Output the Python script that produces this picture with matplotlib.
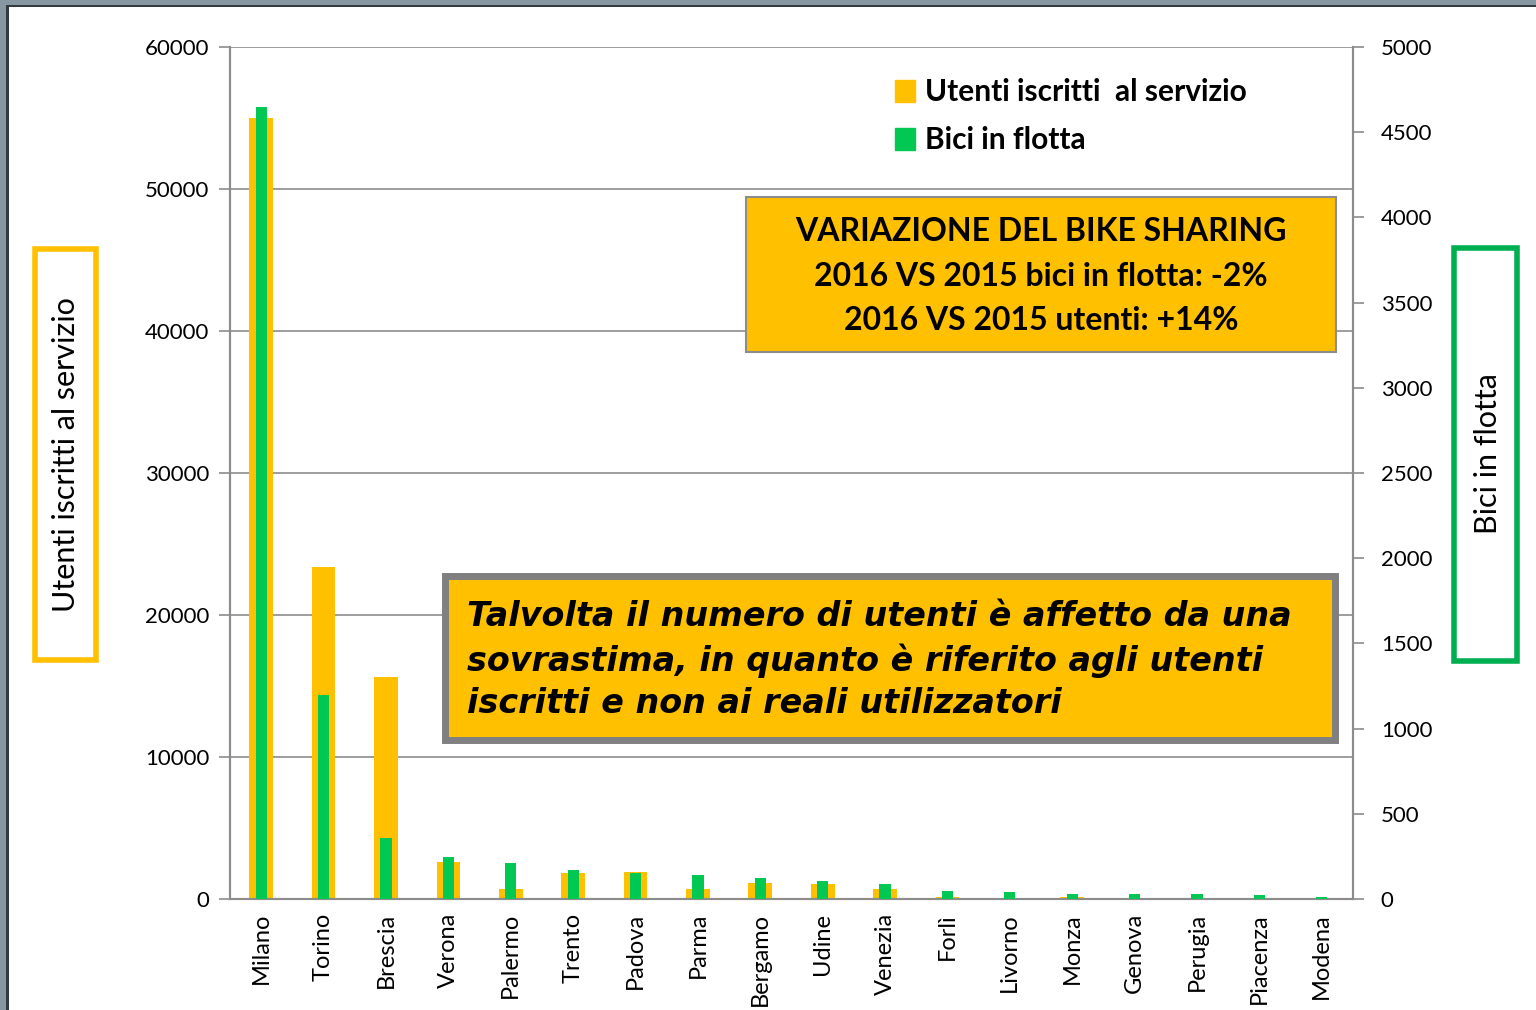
import matplotlib.pyplot as plt
from matplotlib.patches import Rectangle, Patch
import numpy as np

plt.rcParams['font.family'] = ['Lato', 'DejaVu Sans']

# bike sharing by city: registered users (left axis) and fleet size (right axis)
citta = ["Milano", "Torino", "Brescia", "Verona", "Palermo", "Trento", "Padova",
         "Parma", "Bergamo", "Udine", "Venezia", "Forlì", "Livorno", "Monza",
         "Genova", "Perugia", "Piacenza", "Modena"]
utenti = [55000, 23400, 15600, 2600, 700, 1830, 1900, 700, 1150, 1060, 700,
          160, 40, 160, 50, 50, 30, 30]
bici = [4650, 1200, 360, 244, 209, 170, 151, 143, 125, 105, 88, 49, 41, 31,
        31, 31, 23, 13]

giallo = "#FFC000"
verde = "#00C853"
grigio = "#8C8C8C"

W, H = 1536, 1010
fig = plt.figure(figsize=(W / 100, H / 100), dpi=100)


def px_rect(x0, y0, x1, y1, **kw):
    # rectangle given in pixel coordinates from the top-left corner
    r = Rectangle((x0 / W, 1 - y1 / H), (x1 - x0) / W, (y1 - y0) / H,
                  transform=fig.transFigure, **kw)
    fig.patches.append(r)
    return r


# outer slide frame
px_rect(0, 0, 7, H, facecolor="#8798A3", edgecolor="none")
px_rect(6, 6, 9, H, facecolor="#333B40", edgecolor="none")
px_rect(0, 0, W, 5, facecolor="#8798A3", edgecolor="none")
px_rect(6, 5, W, 7, facecolor="#333B40", edgecolor="none")

ax = fig.add_axes([230 / W, 1 - 899 / H, (1353 - 230) / W, (899 - 47) / H])
ax2 = ax.twinx()

x = np.arange(len(citta))
ax.bar(x, utenti, width=0.38, color=giallo, zorder=2)
ax2.bar(x, bici, width=0.18, color=verde, zorder=3)

ax.set_xlim(-0.5, len(citta) - 0.5)
ax.set_ylim(0, 60000)
ax2.set_ylim(0, 5000)
ax.set_yticks(range(0, 60001, 10000))
ax2.set_yticks(range(0, 5001, 500))
ax.yaxis.grid(True, color=grigio, linewidth=1.2, zorder=0)
ax.set_axisbelow(True)

ax.set_xticks(x)
ax.set_xticklabels(citta, rotation=90, fontsize=17)
ax.tick_params(axis="x", length=0, pad=10)
ax.tick_params(axis="y", labelsize=16, length=8, color=grigio, width=1.2, pad=7)
ax2.tick_params(axis="y", labelsize=16, length=8, color=grigio, width=1.2, pad=12)

for a in (ax, ax2):
    a.spines["top"].set_visible(False)
    for s in ("left", "right", "bottom"):
        a.spines[s].set_color(grigio)
        a.spines[s].set_linewidth(1.5)

# legend
ax2.legend(handles=[Patch(color=giallo, label="Utenti iscritti  al servizio"),
                    Patch(color=verde, label="Bici in flotta")],
           loc="upper left", bbox_to_anchor=(0.5685, 0.995), frameon=False,
           prop={"size": 21.5, "weight": "bold"}, handlelength=0.65, handleheight=0.75,
           handletextpad=0.35, labelspacing=0.68)

# axis titles in coloured frames
px_rect(35, 249, 96, 660, facecolor="white", edgecolor=giallo, linewidth=4)
fig.text(66 / W, 1 - 455 / H, "Utenti iscritti al servizio", rotation=90,
         ha="center", va="center", fontsize=22)
px_rect(1454, 248, 1517, 661, facecolor="white", edgecolor="#00B050", linewidth=4)
fig.text(1488 / W, 1 - 454 / H, "Bici in flotta", rotation=90,
         ha="center", va="center", fontsize=22)

# annotation boxes
px_rect(746, 197, 1336, 352, facecolor=giallo, edgecolor=grigio, linewidth=1.5, zorder=5)
fig.text(1041 / W, 1 - 276 / H,
         "VARIAZIONE DEL BIKE SHARING\n2016 VS 2015 bici in flotta: -2%\n2016 VS 2015 utenti: +14%",
         ha="center", va="center", fontsize=23, fontweight="bold",
         linespacing=1.66, zorder=6)

px_rect(445, 576, 1335, 740, facecolor=giallo, edgecolor="#808080", linewidth=5, zorder=5)
fig.text(467 / W, 1 - 660 / H,
         "Talvolta il numero di utenti è affetto da una\nsovrastima, in quanto è riferito agli utenti\niscritti e non ai reali utilizzatori",
         ha="left", va="center", fontsize=24, fontweight="bold", style="italic",
         family="DejaVu Sans", linespacing=1.36, zorder=6)

fig.savefig("out.png", dpi=100)
